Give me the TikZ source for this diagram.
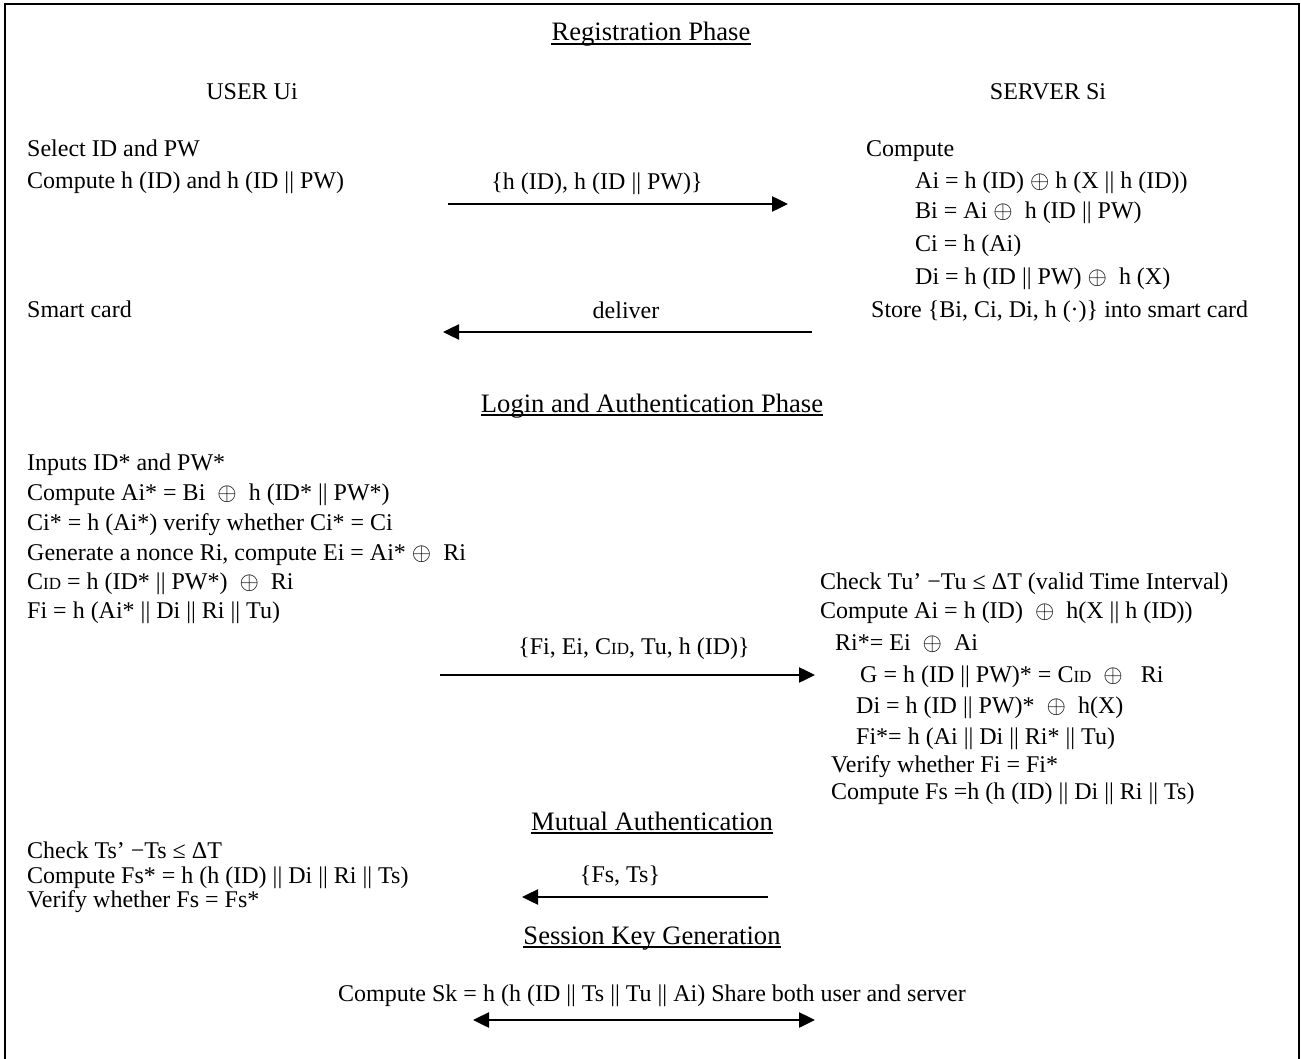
\documentclass[tikz,border=0pt]{standalone}
\usepackage{fontspec}
\setmainfont{Liberation Serif}
\usetikzlibrary{arrows.meta}
\newcommand{\cid}{C{\fontsize{17}{17}\selectfont ID}}
\newcommand{\xor}{{\fontsize{28}{28}\selectfont$\oplus$}}
\begin{document}
\begin{tikzpicture}[x=1pt,y=-1pt,
  txt/.style={inner sep=0pt, anchor=base west, font=\fontsize{24}{28}\selectfont},
  ctxt/.style={inner sep=0pt, anchor=base, font=\fontsize{24}{28}\selectfont},
  ttl/.style={inner sep=0pt, anchor=base, font=\fontsize{26.6}{30}\selectfont},
  msg/.style={line width=2.5pt, -{Triangle[length=16pt,width=15pt]}},
  dmsg/.style={line width=2.5pt, {Triangle[length=16pt,width=15pt]}-{Triangle[length=16pt,width=15pt]}},
  uline/.style={line width=1.5pt}]
\useasboundingbox (0,0) rectangle (1301,1059);
\draw[line width=2.5pt] (5,1059) -- (5,4) -- (1299,4) -- (1299,1059);

% Registration phase
\node[ttl] (reg) at (651,41) {Registration Phase};
\draw[uline] ([yshift=-3pt]reg.base west) -- ([yshift=-3pt]reg.base east);
\node[ctxt] (user) at (252,100) {USER Ui};
\node[ctxt] (server) at (1048,100) {SERVER Si};

\node[txt] (l1) at (27,157) {Select ID and PW};
\node[txt] (l2) at (27,189) {Compute h (ID) and h (ID || PW)};
\node[txt] (l3) at (27,318) {Smart card};

\node[txt] (r0) at (866,157) {Compute};
\node[txt] (r1) at (915,189) {Ai = h (ID) \xor{} h (X || h (ID))};
\node[txt] (r2) at (915,219) {Bi = Ai \xor\ \ h (ID || PW)};
\node[txt] (r3) at (915,252) {Ci = h (Ai)};
\node[txt] (r4) at (915,285) {Di = h (ID || PW) \xor\ \ h (X)};
\node[txt] (r5) at (871,318) {Store \{Bi, Ci, Di, h (·)\} into smart card};

\node[ctxt] (m1) at (597,190) {\{h (ID), h (ID || PW)\}};
\coordinate (m1s) at (448,204);
\coordinate (m1e) at (788,204);
\draw[msg] (m1s) -- (m1e);

\node[ctxt] (m2) at (626,319) {deliver};
\coordinate (m2s) at (812,332);
\coordinate (m2e) at (443,332);
\draw[msg] (m2s) -- (m2e);

% Login and authentication phase
\node[ttl] (login) at (652,412) {Login and Authentication Phase};
\draw[uline] ([yshift=-3pt]login.base west) -- ([yshift=-3pt]login.base east);

\node[txt] (a1) at (27,470) {Inputs ID* and PW*};
\node[txt] (a2) at (27,500) {Compute Ai* = Bi \ \xor\ \ h (ID* || PW*)};
\node[txt] (a3) at (27,530) {Ci* = h (Ai*) verify whether Ci* = Ci};
\node[txt] (a4) at (27,560) {Generate a nonce Ri, compute Ei = Ai* \xor\ \ Ri};
\node[txt] (a5) at (27,589) {\cid{} = h (ID* || PW*) \ \xor\ \ Ri};
\node[txt] (a6) at (27,618) {Fi = h (Ai* || Di || Ri || Tu)};

\node[txt] (b1) at (820,589) {Check Tu’ −Tu ≤ ΔT (valid Time Interval)};
\node[txt] (b2) at (820,618) {Compute Ai = h (ID) \ \xor\ \ h(X || h (ID))};
\node[txt] (b3) at (835,650) {Ri*= Ei \ \xor\ \ Ai};
\node[txt] (b4) at (860,682) {G = h (ID || PW)* = \cid{} \ \xor\ \ \ Ri};
\node[txt] (b5) at (856,713) {Di = h (ID || PW)* \ \xor\ \ h(X)};
\node[txt] (b6) at (856,744) {Fi*= h (Ai || Di || Ri* || Tu)};
\node[txt] (b7) at (831,772) {Verify whether Fi = Fi*};
\node[txt] (b8) at (831,799) {Compute Fs =h (h (ID) || Di || Ri || Ts)};

\node[ctxt] (m3) at (634,654) {\{Fi, Ei, \cid, Tu, h (ID)\}};
\coordinate (m3s) at (440,675);
\coordinate (m3e) at (815,675);
\draw[msg] (m3s) -- (m3e);

% Mutual authentication
\node[ttl] (mut) at (652,830) {Mutual Authentication};
\draw[uline] ([yshift=-3pt]mut.base west) -- ([yshift=-3pt]mut.base east);

\node[txt] (c1) at (27,858) {Check Ts’ −Ts ≤ ΔT};
\node[txt] (c2) at (27,883) {Compute Fs* = h (h (ID) || Di || Ri || Ts)};
\node[txt] (c3) at (27,907) {Verify whether Fs = Fs*};

\node[ctxt] (m4) at (620,882) {\{Fs, Ts\}};
\coordinate (m4s) at (768,897);
\coordinate (m4e) at (522,897);
\draw[msg] (m4s) -- (m4e);

% Session key generation
\node[ttl] (ses) at (652,944) {Session Key Generation};
\draw[uline] ([yshift=-3pt]ses.base west) -- ([yshift=-3pt]ses.base east);

\node[ctxt] (sk) at (652,1001) {Compute Sk = h (h (ID || Ts || Tu || Ai) Share both user and server};
\coordinate (m5s) at (473,1020);
\coordinate (m5e) at (815,1020);
\draw[dmsg] (m5s) -- (m5e);
\end{tikzpicture}
\end{document}
